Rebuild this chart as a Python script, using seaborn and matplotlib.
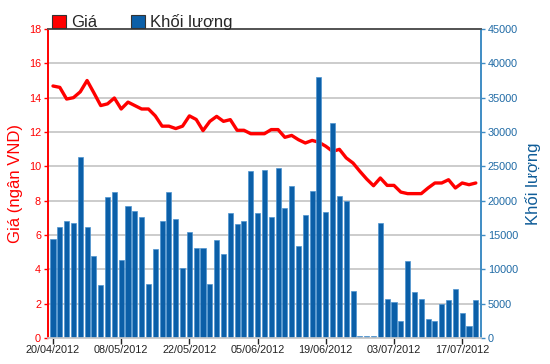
import matplotlib
matplotlib.use("Agg")
import matplotlib.pyplot as plt
from matplotlib.patches import Patch
import seaborn as sns
import pandas as pd

dates = ["20/04/2012", "23/04/2012", "24/04/2012", "25/04/2012", "26/04/2012", "27/04/2012",
         "02/05/2012", "03/05/2012", "04/05/2012", "07/05/2012", "08/05/2012", "09/05/2012",
         "10/05/2012", "11/05/2012", "14/05/2012", "15/05/2012", "16/05/2012", "17/05/2012",
         "18/05/2012", "21/05/2012", "22/05/2012", "23/05/2012", "24/05/2012", "25/05/2012",
         "28/05/2012", "29/05/2012", "30/05/2012", "31/05/2012", "01/06/2012", "04/06/2012",
         "05/06/2012", "06/06/2012", "07/06/2012", "08/06/2012", "11/06/2012", "12/06/2012",
         "13/06/2012", "14/06/2012", "15/06/2012", "18/06/2012", "19/06/2012", "20/06/2012",
         "21/06/2012", "22/06/2012", "25/06/2012", "26/06/2012", "27/06/2012", "28/06/2012",
         "29/06/2012", "02/07/2012", "03/07/2012", "04/07/2012", "05/07/2012", "06/07/2012",
         "09/07/2012", "10/07/2012", "11/07/2012", "12/07/2012", "13/07/2012", "16/07/2012",
         "17/07/2012", "18/07/2012", "19/07/2012"]

price = [14.68, 14.6, 13.92, 14.0, 14.34, 15.0, 14.28, 13.54, 13.64, 13.98,
         13.34, 13.74, 13.54, 13.34, 13.34, 12.94, 12.34, 12.34, 12.2, 12.34,
         12.94, 12.73, 12.08, 12.62, 12.91, 12.62, 12.72, 12.1, 12.1, 11.9,
         11.9, 11.9, 12.14, 12.14, 11.69, 11.8, 11.55, 11.36, 11.51, 11.4,
         11.17, 10.87, 10.99, 10.49, 10.19, 9.71, 9.26, 8.87, 9.32, 8.89,
         8.89, 8.5, 8.41, 8.41, 8.41, 8.74, 9.03, 9.03, 9.22, 8.74,
         9.03, 8.93, 9.03]

volume = [14400, 16200, 17100, 16700, 26400, 16200, 12000, 7700, 20500, 21200,
          11300, 19200, 18500, 17600, 7900, 13000, 17100, 21200, 17400, 10200,
          15400, 13100, 13100, 7900, 14200, 12200, 18200, 16600, 17100, 24300,
          18200, 24500, 17600, 24700, 18900, 22100, 13400, 17950, 21400, 38000,
          18300, 31300, 20700, 19900, 6800, 300, 300, 300, 16700, 5700,
          5200, 2500, 11200, 6650, 5700, 2700, 2500, 4900, 5500, 7200,
          3700, 1800, 5600]

tick_labels = ["20/04/2012", "08/05/2012", "22/05/2012", "05/06/2012",
               "19/06/2012", "03/07/2012", "17/07/2012"]

price_ticks = [0, 2, 4, 6, 8, 10, 12, 14, 16, 18]
volume_ticks = [0, 5000, 10000, 15000, 20000, 25000, 30000, 35000, 40000, 45000]

sns.set_theme(style="white")
plt.rcParams["font.family"] = ["Liberation Sans", "DejaVu Sans"]

RED = "#ff0000"
BLUE_BAR = "#0b5fa8"
BLUE_AX = "#3f8cc4"
BLUE_TXT = "#1f6aa5"
BLUE_LBL = "#0f5c98"

df = pd.DataFrame({"date": dates, "price": price, "volume": volume})
df["pos"] = range(len(df))

fig = plt.figure(figsize=(5.5, 3.64), dpi=100)
ax = fig.add_axes([48 / 550, 26 / 364, 433 / 550, 309 / 364])
ax2 = ax.twinx()

# price line on primary axis (behind bars)
sns.lineplot(data=df, x="pos", y="price", ax=ax, color=RED, linewidth=2.4, zorder=3)

# volume bars on twin axis
sns.barplot(data=df, x="pos", y="volume", ax=ax2, color=BLUE_BAR, width=0.74,
            edgecolor="#4d93cf", linewidth=0.5, saturation=1, native_scale=True)

ax.set_xlim(-0.73, 62.76)
ax2.set_xlim(-0.73, 62.76)
ax.set_ylim(0, 18)
ax2.set_ylim(0, 45000)

ax.set_yticks(price_ticks)
ax.set_yticklabels([str(t) for t in price_ticks])
ax2.set_yticks(volume_ticks)
ax2.set_yticklabels([str(t) for t in volume_ticks])

tick_pos = [dates.index(t) for t in tick_labels]
ax.set_xticks(tick_pos)
ax.set_xticklabels(tick_labels)
ax2.set_xticks(tick_pos)

ax.grid(axis="y", color="#cccccc", linewidth=1.4)
ax.grid(axis="x", visible=False)
ax2.grid(False)
ax.set_axisbelow(True)

ax.set_xlabel("")
ax2.set_xlabel("")
ax.set_ylabel("Giá (ngân VND)", color=RED, fontsize=12, labelpad=4)
ax2.set_ylabel("Khối lượng", color=BLUE_LBL, fontsize=12, labelpad=5)

ax.tick_params(axis="y", colors=RED, labelsize=7.8, length=3, width=1, pad=2, direction="out", left=True)
ax2.tick_params(axis="y", colors=BLUE_AX, labelcolor=BLUE_TXT, labelsize=7.8, length=3, width=1, pad=2, direction="out", right=True)
ax.tick_params(axis="x", colors="#222222", labelsize=7.8, length=4, width=1, pad=1, direction="out", bottom=True)
ax2.tick_params(axis="x", bottom=False, labelbottom=False)

for a in (ax, ax2):
    a.spines["left"].set_color(RED)
    a.spines["left"].set_linewidth(1.2)
    a.spines["right"].set_color(BLUE_AX)
    a.spines["right"].set_linewidth(1.2)
    a.spines["top"].set_color("#555555")
    a.spines["top"].set_linewidth(1.3)
    a.spines["bottom"].set_color("#cccccc")
    a.spines["bottom"].set_linewidth(1.2)
    for s in a.spines.values():
        s.set_visible(True)

handles = [Patch(facecolor=RED, edgecolor="#333333", linewidth=0.8),
           Patch(facecolor=BLUE_BAR, edgecolor="#333333", linewidth=0.8)]
fig.legend(handles, ["Giá", "Khối lượng"], loc="lower left",
           bbox_to_anchor=(52 / 550, 334 / 364), ncol=2, frameon=False,
           fontsize=12, handlelength=0.85, handleheight=0.85,
           handletextpad=0.3, columnspacing=2.0, borderpad=0, borderaxespad=0)

fig.savefig("out.png", dpi=100, facecolor="white")
